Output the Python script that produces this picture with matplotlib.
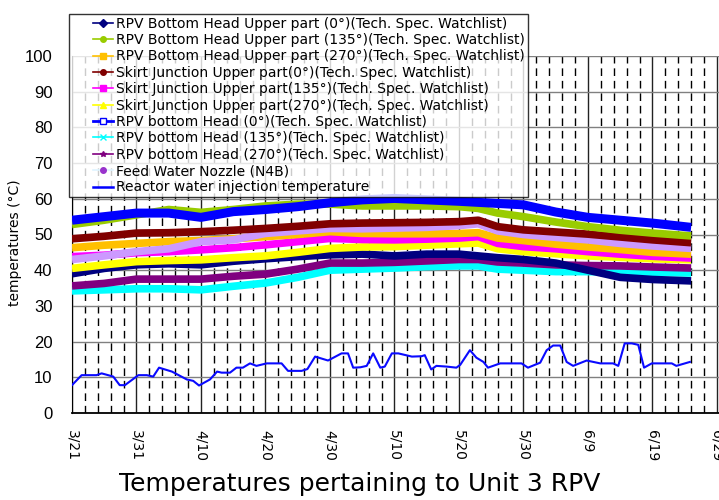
import datetime as dt
import matplotlib
matplotlib.use("Agg")
import matplotlib.pyplot as plt
from matplotlib.lines import Line2D
from matplotlib.legend_handler import HandlerTuple
from matplotlib.ticker import MultipleLocator, FuncFormatter

# days since 3/21 for the thermocouple bands
days = [0, 5, 10, 15, 20, 25, 30, 35, 40, 45, 50, 55, 60, 63, 66, 70, 75, 80, 85, 90, 96]

bh_upper_0 = [39, 40.5, 41.5, 41.8, 41.5, 42.5, 43.2, 43.8, 44.3, 44.5, 44, 44.5, 44.5, 44, 43.5, 43, 42, 40, 38, 37.4, 37]
bh_upper_135 = [52.8, 54, 55.5, 57, 56.2, 57, 58, 58.5, 58.5, 58, 58, 58, 57.8, 57.3, 56, 55, 53.5, 52.2, 51.2, 50.4, 49.6]
bh_upper_270 = [46.3, 47, 47.5, 48, 48.3, 48.8, 49.4, 50, 50.8, 50.3, 50.2, 50.2, 50.3, 50.5, 49, 48.3, 47.3, 46.5, 45.8, 45, 44.5]
skirt_0 = [48.8, 49.5, 50.4, 50.5, 50.8, 51.2, 51.7, 52.3, 53, 53.2, 53.3, 53.4, 53.6, 54, 52.2, 51.3, 50.7, 50.1, 49.3, 48.5, 47.7]
skirt_135 = [43.8, 44.2, 44.9, 45.2, 45.7, 46.3, 47.1, 48, 48.9, 48.6, 48.5, 48.7, 49, 49.4, 47.5, 46.6, 46, 45.2, 44.5, 43.9, 43.4]
skirt_270 = [40.5, 41.5, 42.4, 42.7, 42.9, 43.5, 44, 45, 46.1, 46.5, 46.6, 47, 47.4, 47.6, 46, 45.2, 44.6, 44, 43.6, 43.2, 42.9]
bh_0 = [54, 55, 56, 56, 54.8, 56.4, 57, 57.8, 58.9, 59.7, 60.1, 59.7, 59.3, 59, 58.7, 58.3, 56.3, 54.8, 54, 53.2, 52]
bh_135 = [34.2, 34.5, 34.8, 34.8, 34.5, 35.5, 36.4, 38, 40, 40.3, 40.6, 41, 41.2, 41.2, 40.3, 40, 39.6, 39.6, 39.5, 39.4, 39.2]
bh_270 = [35.6, 36.3, 37.5, 37.5, 37.5, 38.3, 38.9, 40.3, 42, 42, 42.2, 42.6, 43, 43, 42.3, 42, 41.5, 41.3, 41.2, 40.9, 40.6]
fw_nozzle = [43, 44, 45.2, 46, 48, 48.5, 50.3, 51, 51.7, 51.6, 51.8, 52, 52.5, 53, 51, 50, 49.2, 48.5, 47.5, 46.8, 46.1]

# reactor water injection temperature
inj_days = [0, 1.5, 3.8, 4.6, 6.4, 7.4, 8.2, 10.3, 11.6, 12.6, 13.5, 15.5, 17.8, 18.8, 19.7, 21.4,
            22.5, 23.2, 24.5, 25.5, 26.5, 27.6, 28.6, 30.2, 32.5, 33.5, 35.6, 36.5, 37.7, 39.7,
            41.8, 42.8, 43.6, 44.7, 45.7, 46.7, 47.8, 48.5, 49.6, 50.6, 52.7, 54.2, 54.7, 55.7,
            56.5, 58.1, 59.6, 60.2, 61.7, 62.7, 63.8, 64.5, 66.4, 69.7, 70.7, 72.6, 73.6, 74.6,
            75.7, 76.7, 77.7, 79.8, 81.9, 83.9, 84.7, 85.7, 86.8, 87.8, 88.7, 89.9, 93, 93.7, 95.8]
inj_temp = [7.8, 10.6, 10.6, 11.1, 10.2, 7.8, 7.8, 10.6, 10.6, 10.2, 12.7, 11.6, 9.4, 9.0, 7.7, 9.4,
            11.6, 11.3, 11.3, 12.7, 12.7, 13.9, 13.2, 13.9, 13.9, 11.8, 11.8, 12.3, 15.8, 14.7,
            16.7, 16.7, 12.7, 12.8, 13.2, 16.7, 12.7, 13.0, 16.7, 16.7, 15.8, 15.9, 16.2, 12.2,
            13.2, 13.0, 12.7, 13.5, 17.6, 15.5, 14.3, 12.7, 13.9, 13.9, 12.7, 14.1, 17.6, 18.9,
            18.9, 14.3, 13.2, 14.7, 13.9, 13.9, 13.2, 19.5, 19.5, 19.1, 12.7, 13.9, 13.9, 13.2, 14.3]

start = dt.date(2011, 3, 21)

# label, data, band colour, legend line colour, legend marker, marker face
series = [
    ("RPV Bottom Head Upper part (0°)(Tech. Spec. Watchlist)", bh_upper_0, "#000080", "#000080", "D", "#000080"),
    ("RPV Bottom Head Upper part (135°)(Tech. Spec. Watchlist)", bh_upper_135, "#99cc00", "#99cc00", "o", "#99cc00"),
    ("RPV Bottom Head Upper part (270°)(Tech. Spec. Watchlist)", bh_upper_270, "#ffc000", "#ffc000", "s", "#ffc000"),
    ("Skirt Junction Upper part(0°)(Tech. Spec. Watchlist)", skirt_0, "#800000", "#800000", "o", "#800000"),
    ("Skirt Junction Upper part(135°)(Tech. Spec. Watchlist)", skirt_135, "#ff00ff", "#ff00ff", "s", "#ff00ff"),
    ("Skirt Junction Upper part(270°)(Tech. Spec. Watchlist)", skirt_270, "#ffff00", "#ffff00", "^", "#ffff00"),
    ("RPV bottom Head (0°)(Tech. Spec. Watchlist)", bh_0, "#0000ff", "#0000ff", "s", "white"),
    ("RPV bottom Head (135°)(Tech. Spec. Watchlist)", bh_135, "#00ffff", "#00ffff", "x", "#00ffff"),
    ("RPV bottom Head (270°)(Tech. Spec. Watchlist)", bh_270, "#800080", "#800080", "*", "#800080"),
    ("Feed Water Nozzle (N4B)", fw_nozzle, "#cc99ff", "#dff4ff", "o", "#9933cc"),
]
# drawing order (back to front)
draw_order = [7, 8, 0, 5, 4, 2, 9, 3, 1, 6]

fig = plt.figure(figsize=(7.19, 5.0), dpi=100)
ax = fig.add_axes([0.1001, 0.174, 0.906, 0.714])

for z, i in enumerate(draw_order):
    label, vals, col = series[i][:3]
    lw = 6.5 if i == 6 else 5.5
    ax.plot(days, vals, color=col, lw=lw, solid_capstyle="butt", zorder=3 + z)

ax.plot(inj_days, inj_temp, color="#0a0aff", lw=1.5, zorder=20)

ax.set_xlim(0, 101)
ax.set_ylim(0, 100)
ax.xaxis.set_major_locator(MultipleLocator(10))
ax.xaxis.set_minor_locator(MultipleLocator(2))
ax.yaxis.set_major_locator(MultipleLocator(10))


def date_label(x, pos):
    d = start + dt.timedelta(days=int(round(x)))
    return f"{d.month}/{d.day}"


ax.xaxis.set_major_formatter(FuncFormatter(date_label))
ax.grid(True, axis="y", which="major", color="#808080", lw=1.0)
ax.grid(True, axis="x", which="major", color="#222222", lw=1.0)
ax.grid(True, axis="x", which="minor", color="black", lw=1.0, linestyle=(0, (5.5, 3.5)))
ax.set_axisbelow(True)

for lab in ax.get_yticklabels():
    lab.set_fontfamily("Liberation Sans")
ax.tick_params(axis="y", length=0, pad=14, labelsize=12)
ax.tick_params(axis="x", which="major", length=0, pad=12, labelsize=10, labelrotation=-90)
ax.tick_params(axis="x", which="minor", length=0)
for sp in ["top", "right"]:
    ax.spines[sp].set_visible(False)
ax.spines["left"].set_color("black")
ax.spines["bottom"].set_color("black")
ax.spines["bottom"].set_linewidth(1.3)

ax.set_ylabel("temperatures (°C)", fontsize=10)
ax.yaxis.set_label_coords(-0.077, 0.476)
fig.text(0.5, 0.032, "Temperatures pertaining to Unit 3 RPV", fontsize=18,
         ha="center", va="center")

# legend: blank spacer + short line so the handle sits away from the frame
handles = []
for label, vals, bandcol, col, mk, mfc in series:
    lw = 2 if col == "#0000ff" else 1.2
    line = Line2D([], [], color=col, lw=lw, marker=mk, markersize=4,
                  markerfacecolor=mfc, markeredgecolor=col if mfc == "white" else mfc)
    handles.append((Line2D([], [], lw=0), line))
handles.append((Line2D([], [], lw=0), Line2D([], [], color="#0000ff", lw=1.8)))
labels = [s[0] for s in series] + ["Reactor water injection temperature"]

leg = fig.legend(handles, labels, loc="upper left", bbox_to_anchor=(0.096, 0.972),
                 handler_map={tuple: HandlerTuple(ndivide=None, pad=0)},
                 fontsize=10, frameon=True, fancybox=False, edgecolor="black",
                 borderpad=0.2, labelspacing=0.17, handlelength=3.0, handletextpad=0.2,
                 borderaxespad=0)
leg.get_frame().set_linewidth(1.0)
leg.set_zorder(30)

fig.savefig("out.png", dpi=100)
